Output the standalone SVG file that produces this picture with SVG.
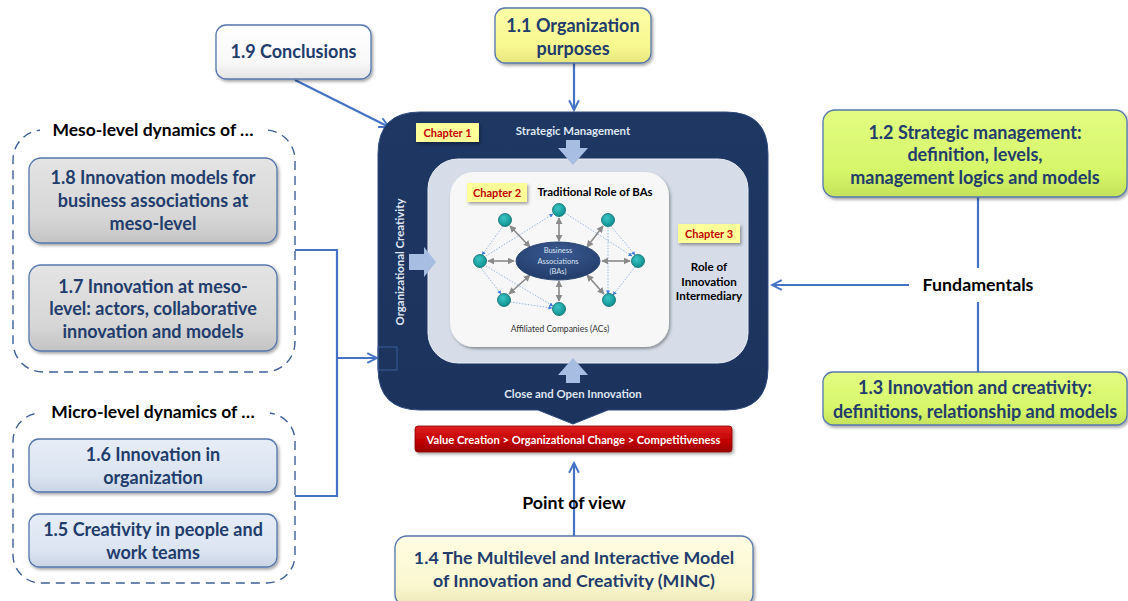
<svg xmlns="http://www.w3.org/2000/svg" width="1128" height="601" viewBox="0 0 1128 601">
  <defs>
    <style>
      .box { stroke: #5677ad; stroke-width: 1.3; filter: url(#shadow); }
      .t { font-family: Lato, "Liberation Sans", sans-serif; font-weight: bold; fill: #223c6c; text-anchor: middle; }
      .big { font-size: 18px; }
      .lbl { font-family: Lato, "Liberation Sans", sans-serif; font-weight: bold; fill: #000; text-anchor: middle; }
      .chap { fill: #ffff99; filter: url(#shadow); }
      .chapt { font-family: Lato, "Liberation Sans", sans-serif; font-weight: bold; fill: #c00000; font-size: 11px; text-anchor: middle; }
      .wt { font-family: Lato, "Liberation Sans", sans-serif; font-weight: bold; fill: #dfe6f2; font-size: 11.4px; text-anchor: middle; }
      .conn { fill: none; stroke: #4472c4; stroke-width: 2.2; }
      .dash { fill: none; stroke: #3e5f96; stroke-width: 1.4; stroke-dasharray: 9 6; }
      .block { fill: #a7bde1; }
      .ac { fill: url(#teal); stroke: #0d6b6b; stroke-width: 0.8; }
      .dbl { stroke: #8a8a8a; stroke-width: 1.6; marker-start: url(#gh); marker-end: url(#gh); }
      .dot { stroke: #8fb0e3; stroke-width: 0.9; stroke-dasharray: 1.5 1.5; marker-end: url(#bh); }
    </style>
    <filter id="shadow" x="-10%" y="-10%" width="130%" height="140%">
      <feDropShadow dx="1.5" dy="2" stdDeviation="1.5" flood-color="#000" flood-opacity="0.35"/>
    </filter>
    <marker id="arr" viewBox="0 0 12 12" refX="10.5" refY="6" markerWidth="13" markerHeight="13" markerUnits="userSpaceOnUse" orient="auto">
      <path d="M1.5,1.5 L10.5,6 L1.5,10.5" fill="none" stroke="#4472c4" stroke-width="1.8"/>
    </marker>
    <marker id="gh" viewBox="0 0 10 10" refX="9" refY="5" markerWidth="7" markerHeight="7" markerUnits="userSpaceOnUse" orient="auto-start-reverse">
      <path d="M0,0 L10,5 L0,10 Z" fill="#8a8a8a"/>
    </marker>
    <marker id="bh" viewBox="0 0 10 10" refX="9" refY="5" markerWidth="4" markerHeight="4" markerUnits="userSpaceOnUse" orient="auto">
      <path d="M0,0 L10,5 L0,10 Z" fill="#3d7be0"/>
    </marker>
    <linearGradient id="gGray" x1="0" y1="0" x2="0" y2="1">
      <stop offset="0" stop-color="#e4e4e4"/><stop offset="0.7" stop-color="#d6d6d6"/><stop offset="1" stop-color="#c4c4c4"/>
    </linearGradient>
    <linearGradient id="gBlue" x1="0" y1="0" x2="0" y2="1">
      <stop offset="0" stop-color="#e6edf7"/><stop offset="0.7" stop-color="#dbe4f1"/><stop offset="1" stop-color="#c9d4e4"/>
    </linearGradient>
    <linearGradient id="gGreen" x1="0" y1="0" x2="0" y2="1">
      <stop offset="0" stop-color="#e2fc82"/><stop offset="0.7" stop-color="#d6f66a"/><stop offset="1" stop-color="#c4e25a"/>
    </linearGradient>
    <linearGradient id="gYel" x1="0" y1="0" x2="0" y2="1">
      <stop offset="0" stop-color="#fdfda8"/><stop offset="0.7" stop-color="#f8f890"/><stop offset="1" stop-color="#e6e67c"/>
    </linearGradient>
    <linearGradient id="gPale" x1="0" y1="0" x2="0" y2="1">
      <stop offset="0" stop-color="#fffde4"/><stop offset="0.7" stop-color="#fbf7cf"/><stop offset="1" stop-color="#ece6b8"/>
    </linearGradient>
    <linearGradient id="gWhite" x1="0" y1="0" x2="0" y2="1">
      <stop offset="0" stop-color="#ffffff"/><stop offset="0.7" stop-color="#f8f8f8"/><stop offset="1" stop-color="#e4e4e4"/>
    </linearGradient>
    <linearGradient id="gRed" x1="0" y1="0" x2="0" y2="1">
      <stop offset="0" stop-color="#e02020"/><stop offset="0.6" stop-color="#c00000"/><stop offset="1" stop-color="#9a0000"/>
    </linearGradient>
    <linearGradient id="gNavy" x1="0" y1="0" x2="0" y2="1">
      <stop offset="0" stop-color="#1e3763"/><stop offset="1" stop-color="#1c335d"/>
    </linearGradient>
    <radialGradient id="teal" cx="0.4" cy="0.35" r="0.7">
      <stop offset="0" stop-color="#3cc4c4"/><stop offset="1" stop-color="#0a8c8c"/>
    </radialGradient>
    <radialGradient id="ell" cx="0.5" cy="0.3" r="0.8">
      <stop offset="0" stop-color="#3a5a92"/><stop offset="1" stop-color="#1f3864"/>
    </radialGradient>
  </defs>

  <rect width="1128" height="601" fill="#ffffff"/>

  <!-- connectors -->
  <g id="connectors">
    <line class="conn" x1="295" y1="80" x2="389" y2="127" marker-end="url(#arr)"/>
    <line class="conn" x1="574" y1="63" x2="574" y2="110" marker-end="url(#arr)"/>
    <polyline class="conn" points="295,250 337,250 337,496 295,496"/>
    <line class="conn" x1="337" y1="358" x2="377" y2="358" marker-end="url(#arr)"/>
    <line class="conn" x1="978" y1="197" x2="978" y2="268"/>
    <line class="conn" x1="978" y1="302" x2="978" y2="372"/>
    <line class="conn" x1="909" y1="285" x2="772" y2="285" marker-end="url(#arr)"/>
    <line class="conn" x1="574" y1="536" x2="574" y2="463" marker-end="url(#arr)"/>
  </g>

  <!-- central model (chapters 1-3) -->
  <g id="model">
    <path d="M420,112 H726 Q768,112 768,154 V368 Q768,410 726,410 H608 L573,424 L538,410 H420 Q378,410 378,368 V154 Q378,112 420,112 Z" fill="url(#gNavy)" stroke="#2e4c80" stroke-width="1"/>
    <rect x="378" y="347" width="19" height="23" fill="none" stroke="#3b5f9c" stroke-width="1"/>
    <rect x="428" y="159" width="320" height="204" rx="30" fill="#d6dde8" stroke="#e8edf4" stroke-width="1"/>
    <rect x="450" y="172" width="219" height="175" rx="24" fill="#f7f7f7" filter="url(#shadow)"/>

    <!-- block arrows -->
    <path class="block" d="M566,140 H580 V148 H588 L573,165 L558,148 H566 Z"/>
    <path class="block" d="M566,383 H580 V375 H588 L573,358 L558,375 H566 Z"/>
    <path class="block" d="M409,254 H424 V247 L436,262 L424,277 V270 H409 Z"/>

    <text class="wt" x="573" y="135">Strategic Management</text>
    <text class="wt" x="573" y="398">Close and Open Innovation</text>
    <text class="wt" transform="translate(404,262) rotate(-90)">Organizational Creativity</text>

    <rect class="chap" x="416" y="123" width="63" height="19"/>
    <text class="chapt" x="447.5" y="136.5">Chapter 1</text>
    <rect class="chap" x="467" y="183" width="60" height="19"/>
    <text class="chapt" x="497" y="196.5">Chapter 2</text>
    <rect class="chap" x="678" y="224" width="62" height="19"/>
    <text class="chapt" x="709" y="237.5">Chapter 3</text>

    <text class="lbl" x="595" y="196" font-size="11.4">Traditional Role of BAs</text>
    <text class="lbl" font-size="11.6"><tspan x="709" y="271">Role of</tspan><tspan x="709" y="286">Innovation</tspan><tspan x="709" y="300">Intermediary</tspan></text>

    <!-- dotted links between affiliated companies -->
    <g id="ac-links">
      <line class="dot" x1="503" y1="226" x2="482" y2="255"/>
      <line class="dot" x1="486" y1="256" x2="553" y2="214"/>
      <line class="dot" x1="565" y1="213" x2="632" y2="256"/>
      <line class="dot" x1="611" y1="226" x2="635" y2="255"/>
      <line class="dot" x1="608" y1="227" x2="608" y2="294"/>
      <line class="dot" x1="635" y1="267" x2="613" y2="295"/>
      <line class="dot" x1="481" y1="268" x2="501" y2="294"/>
      <line class="dot" x1="486" y1="266" x2="553" y2="306"/>
      <line class="dot" x1="510" y1="302" x2="552" y2="308"/>
    </g>
    <!-- double-headed links to the association -->
    <g id="ba-links">
      <line class="dbl" x1="510" y1="226" x2="530" y2="247"/>
      <line class="dbl" x1="559" y1="218" x2="559" y2="241"/>
      <line class="dbl" x1="603" y1="226" x2="587" y2="247"/>
      <line class="dbl" x1="488" y1="261" x2="514" y2="261"/>
      <line class="dbl" x1="630" y1="261" x2="602" y2="261"/>
      <line class="dbl" x1="509" y1="294" x2="530" y2="275"/>
      <line class="dbl" x1="559" y1="301" x2="559" y2="281"/>
      <line class="dbl" x1="604" y1="294" x2="587" y2="275"/>
    </g>
    <g id="acs">
      <circle class="ac" cx="559" cy="210" r="6.5"/>
      <circle class="ac" cx="505" cy="220" r="6.5"/>
      <circle class="ac" cx="608" cy="220" r="6.5"/>
      <circle class="ac" cx="480" cy="261" r="6.5"/>
      <circle class="ac" cx="638" cy="261" r="6.5"/>
      <circle class="ac" cx="504" cy="300" r="6.5"/>
      <circle class="ac" cx="559" cy="309" r="6.5"/>
      <circle class="ac" cx="609" cy="300" r="6.5"/>
    </g>
    <g id="ba">
      <ellipse cx="558" cy="261" rx="42" ry="19" fill="url(#ell)" stroke="#2a4676" stroke-width="1"/>
      <text font-family="Lato, 'Liberation Sans', sans-serif" font-size="7.5" fill="#d8e2f2" text-anchor="middle"><tspan x="558" y="253">Business</tspan><tspan x="558" y="263.5">Associations</tspan><tspan x="558" y="274">(BAs)</tspan></text>
    </g>
    <text x="560" y="332" font-family="Lato, 'Liberation Sans', sans-serif" font-size="8.5" fill="#333" text-anchor="middle">Affiliated Companies (ACs)</text>
  </g>

  <g id="value-bar">
    <rect x="415" y="426" width="317" height="26" rx="3" fill="url(#gRed)" stroke="#8a0000" stroke-width="0.8" filter="url(#shadow)"/>
    <text x="573.5" y="443.5" font-family="Lato, 'Liberation Sans', sans-serif" font-weight="bold" font-size="11.2" fill="#ffffff" text-anchor="middle">Value Creation &gt; Organizational Change &gt; Competitiveness</text>
  </g>

  <g id="n19">
    <rect class="box" x="216" y="25" width="155" height="54" rx="10" fill="url(#gWhite)"/>
    <text class="t big" x="293.5" y="58">1.9 Conclusions</text>
  </g>
  <g id="n11">
    <rect class="box" x="495" y="8" width="156" height="55" rx="10" fill="url(#gYel)"/>
    <text class="t big"><tspan x="573" y="32">1.1 Organization</tspan><tspan x="573" y="55">purposes</tspan></text>
  </g>

  <g id="meso">
    <rect class="dash" x="13" y="130" width="282" height="242" rx="30"/>
    <rect x="40" y="118" width="228" height="24" fill="#ffffff"/>
    <text class="lbl" x="153" y="136" font-size="17.5">Meso-level dynamics of …</text>
  </g>
  <g id="n18">
    <rect class="box" x="29" y="158" width="248" height="85" rx="12" fill="url(#gGray)"/>
    <text class="t big"><tspan x="153" y="184">1.8 Innovation models for</tspan><tspan x="153" y="207">business associations at</tspan><tspan x="153" y="230">meso-level</tspan></text>
  </g>
  <g id="n17">
    <rect class="box" x="29" y="265" width="248" height="86" rx="12" fill="url(#gGray)"/>
    <text class="t big"><tspan x="153" y="293">1.7 Innovation at meso-</tspan><tspan x="153" y="315">level: actors, collaborative</tspan><tspan x="153" y="338">innovation and models</tspan></text>
  </g>

  <g id="micro">
    <rect class="dash" x="13" y="413" width="282" height="170" rx="28"/>
    <rect x="38" y="400" width="232" height="24" fill="#ffffff"/>
    <text class="lbl" x="153" y="418" font-size="17.5">Micro-level dynamics of …</text>
  </g>
  <g id="n16">
    <rect class="box" x="29" y="439" width="248" height="53" rx="10" fill="url(#gBlue)"/>
    <text class="t big"><tspan x="153" y="461">1.6 Innovation in</tspan><tspan x="153" y="484">organization</tspan></text>
  </g>
  <g id="n15">
    <rect class="box" x="29" y="514" width="248" height="53" rx="10" fill="url(#gBlue)"/>
    <text class="t big"><tspan x="153" y="536">1.5 Creativity in people and</tspan><tspan x="153" y="559">work teams</tspan></text>
  </g>

  <g id="n12">
    <rect class="box" x="823" y="110" width="304" height="87" rx="12" fill="url(#gGreen)"/>
    <text class="t big"><tspan x="975" y="139">1.2 Strategic management:</tspan><tspan x="975" y="161">definition, levels,</tspan><tspan x="975" y="184">management logics and models</tspan></text>
  </g>
  <g id="fundamentals">
    <text class="lbl" x="978" y="291" font-size="17.8">Fundamentals</text>
  </g>
  <g id="n13">
    <rect class="box" x="823" y="372" width="304" height="53" rx="10" fill="url(#gGreen)"/>
    <text class="t big"><tspan x="975" y="394">1.3 Innovation and creativity:</tspan><tspan x="975" y="418">definitions, relationship and models</tspan></text>
  </g>

  <g id="point-of-view">
    <text class="lbl" x="574" y="509" font-size="17.8">Point of view</text>
  </g>
  <g id="n14">
    <rect class="box" x="395" y="536" width="358" height="70" rx="12" fill="url(#gPale)"/>
    <text class="t" font-size="17.8"><tspan x="574" y="564">1.4 The Multilevel and Interactive Model</tspan><tspan x="574" y="587">of Innovation and Creativity (MINC)</tspan></text>
  </g>
</svg>
